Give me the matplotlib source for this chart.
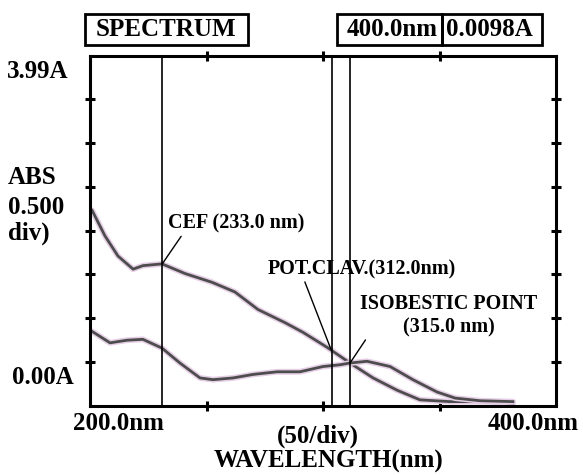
import matplotlib
matplotlib.use('Agg')
import matplotlib.pyplot as plt
from matplotlib.patches import Rectangle
import numpy as np

plt.rcParams['font.family'] = ['Liberation Serif', 'DejaVu Serif']
plt.rcParams['font.weight'] = 'bold'

# spectrum traces (nm, absorbance)
cef_nm = [200.9, 206.4, 212.0, 218.5, 222.7, 230.9, 240.8, 252.4, 262.2, 272.1,
          283.7, 291.4, 301.7, 311.6, 321.5, 331.8, 341.6, 354.5, 368.7, 381.5]
cef_abs = [2.23, 1.94, 1.71, 1.56, 1.60, 1.62, 1.51, 1.41, 1.30, 1.10,
           0.95, 0.84, 0.67, 0.49, 0.32, 0.18, 0.07, 0.05, 0.05, 0.035]

clav_nm = [200.9, 208.6, 215.9, 222.7, 230.9, 238.6, 247.2, 252.8, 261.4, 270.0,
           280.3, 290.1, 300.0, 307.3, 311.6, 318.9, 328.8, 338.6, 348.9, 356.7,
           367.4, 381.5]
clav_abs = [0.85, 0.72, 0.75, 0.76, 0.66, 0.49, 0.32, 0.30, 0.32, 0.36,
            0.39, 0.39, 0.45, 0.47, 0.49, 0.51, 0.45, 0.30, 0.16, 0.09,
            0.06, 0.05]

marker_nm = [231.0, 304.0, 311.5]
x_ticks = [250, 300, 350]
y_ticks = [0.5, 1.0, 1.5, 2.0, 2.5, 3.0, 3.5]

W, H = 583, 475
fig = plt.figure(figsize=(W / 100, H / 100), dpi=100)
ax = fig.add_axes([90 / W, 1 - 406 / H, 466 / W, 350 / H])


def fx(x):
    return x / W


def fy(y):
    return 1 - y / H


for nm, ab in [(cef_nm, cef_abs), (clav_nm, clav_abs)]:
    ax.plot(nm, ab, color='#e6cfe6', lw=4.2, solid_capstyle='round')
    ax.plot(nm, ab, color='#4d4d4d', lw=2)

for v in marker_nm:
    ax.axvline(v, color='black', lw=1.2)

ax.set_xlim(200, 400)
ax.set_ylim(0, 3.99)
ax.set_xticks(x_ticks)
ax.set_yticks(y_ticks)
ax.set_xticklabels([])
ax.set_yticklabels([])
ax.tick_params(direction='inout', length=7, width=2.2, top=True, right=True)
for s in ax.spines.values():
    s.set_linewidth(2.2)

ann = dict(fontsize=14.5, fontweight='bold')
ax.annotate('CEF (233.0 nm)', xy=(231.0, 1.62), xytext=(233.5, 2.08),
            ha='left', va='center',
            arrowprops=dict(arrowstyle='-', color='black', lw=1, relpos=(0.11, 0),
                            shrinkA=0, shrinkB=0), **ann)
ax.annotate('POT.CLAV.(312.0nm)', xy=(303.5, 0.64), xytext=(276.4, 1.56),
            ha='left', va='center',
            arrowprops=dict(arrowstyle='-', color='black', lw=1, relpos=(0.19, 0),
                            shrinkA=0, shrinkB=0), **ann)
ax.annotate('ISOBESTIC POINT\n(315.0 nm)', xy=(311.6, 0.49), xytext=(354.1, 1.03),
            ha='center', va='center', multialignment='center',
            arrowprops=dict(arrowstyle='-', color='black', lw=1, relpos=(0.12, 0.5),
                            shrinkA=0, shrinkB=0), **ann)

big = dict(fontsize=18, fontweight='bold')
fig.text(fx(7), fy(72), '3.99A', ha='left', va='center', **big)
fig.text(fx(8), fy(178), 'ABS', ha='left', va='center', **big)
fig.text(fx(8), fy(207), '0.500', ha='left', va='center', **big)
fig.text(fx(8), fy(233), 'div)', ha='left', va='center', **big)
fig.text(fx(12), fy(378), '0.00A', ha='left', va='center', **big)

fig.text(fx(118), fy(424), '200.0nm', ha='center', va='center', **big)
fig.text(fx(318), fy(436), '(50/div)', ha='center', va='center', **big)
fig.text(fx(533), fy(424), '400.0nm', ha='center', va='center', **big)
fig.text(fx(328), fy(461), 'WAVELENGTH(nm)', ha='center', va='center', **big)

# header boxes
for x0, x1 in [(85, 248), (337, 442), (442, 542)]:
    fig.patches.append(Rectangle((fx(x0), fy(45)), (x1 - x0) / W, 31 / H,
                                 transform=fig.transFigure, fill=False,
                                 edgecolor='black', lw=2))
fig.text(fx(166), fy(30), 'SPECTRUM', ha='center', va='center', **big)
fig.text(fx(392), fy(29), '400.0nm', ha='center', va='center', **big)
fig.text(fx(489), fy(29), '0.0098A', ha='center', va='center', **big)

fig.savefig('out.png', dpi=100)
